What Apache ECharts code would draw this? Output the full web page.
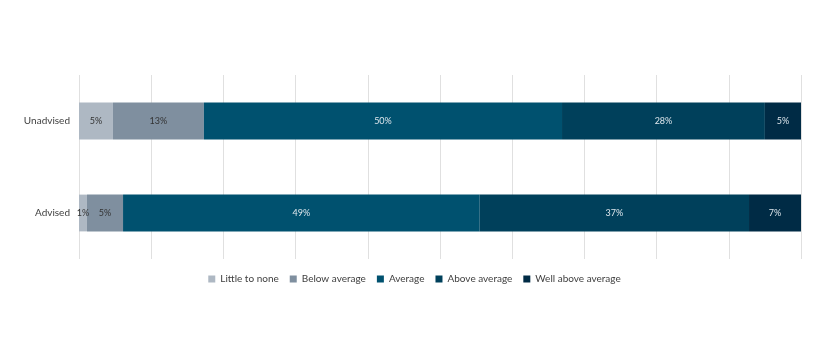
<!DOCTYPE html>
<html><head><meta charset="utf-8">
<script src="https://cdn.jsdelivr.net/npm/echarts@6/dist/echarts.min.js"></script>
<style>html,body{margin:0;padding:0;background:#fff}#c{width:829px;height:360px}</style>
</head><body><div id="c"></div>
<script>
var categories = ['Unadvised', 'Advised'];
var seriesNames = ['Little to none', 'Below average', 'Average', 'Above average', 'Well above average'];
var littleToNone = [4.7, 1.1];
var belowAverage = [12.6, 5.0];
var average = [49.6, 49.4];
var aboveAverage = [28.1, 37.3];
var wellAboveAverage = [5.0, 7.2];
var colors = ['#aeb8c3', '#7f8f9f', '#00516f', '#00405b', '#002b45'];
var labelColors = ['#333333', '#333333', '#dde6ec', '#dde6ec', '#dde6ec'];
var values = [littleToNone, belowAverage, average, aboveAverage, wellAboveAverage];
var font = 'Lato, "Noto Sans", sans-serif';
var chart = echarts.init(document.getElementById('c'));
chart.setOption({
  animation: false,
  textStyle: {fontFamily: font},
  grid: {left: 79, right: 28, top: 75, bottom: 101, containLabel: false},
  legend: {
    bottom: 71, left: 'center', itemWidth: 7, itemHeight: 7, itemGap: 11,
    icon: 'rect', textStyle: {fontSize: 10, color: '#404040', fontFamily: font},
    data: seriesNames
  },
  xAxis: {
    type: 'value', min: 0, max: 100, interval: 10,
    axisLabel: {show: false}, axisLine: {show: false}, axisTick: {show: false},
    splitLine: {lineStyle: {color: '#e0e0e0', width: 1}}
  },
  yAxis: {
    type: 'category', inverse: true, data: categories,
    axisLine: {show: false}, axisTick: {show: false},
    axisLabel: {fontSize: 10, color: '#404040', margin: 9}
  },
  series: seriesNames.map(function (n, i) {
    return {
      name: n, type: 'bar', stack: 'total', barWidth: '40%',
      itemStyle: {color: colors[i]},
      label: {
        show: true, position: 'inside', fontSize: 9, color: labelColors[i],
        formatter: function (p) { return Math.round(p.value) + '%'; }
      },
      data: values[i]
    };
  })
});
</script></body></html>
